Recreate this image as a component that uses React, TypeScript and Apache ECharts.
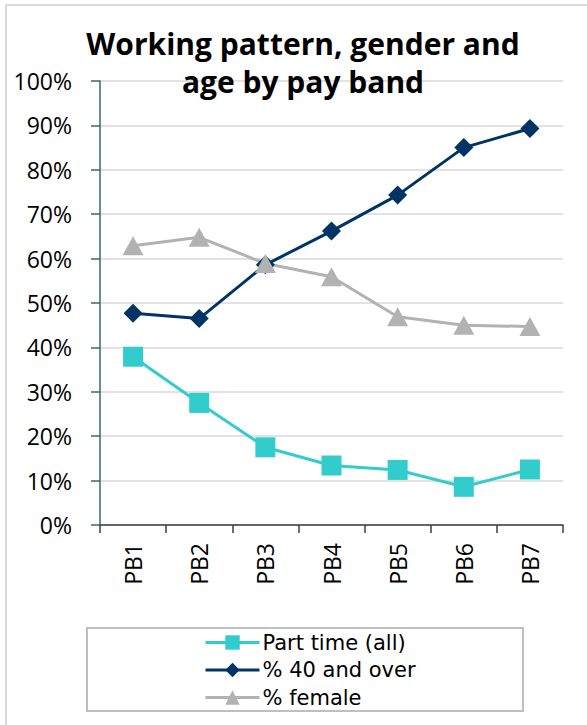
import React, { useEffect, useRef } from "react";
import * as echarts from "echarts";

const categories = ["PB1", "PB2", "PB3", "PB4", "PB5", "PB6", "PB7"];
const partTime = [0.379, 0.275, 0.175, 0.134, 0.124, 0.086, 0.125];
const over40 = [0.477, 0.465, 0.586, 0.662, 0.743, 0.85, 0.893];
const female = [0.629, 0.648, 0.589, 0.559, 0.469, 0.45, 0.447];
const seriesNames = ["Part time (all)", "% 40 and over", "% female"];
const titleText = "Working pattern, gender and\nage by pay band";

const FONT = "'Open Sans', 'Liberation Sans', sans-serif";
const LEGEND_FONT = "'DejaVu Sans', 'Liberation Sans', sans-serif";

export default function App() {
  const ref = useRef<HTMLDivElement>(null);
  useEffect(() => {
    if (!ref.current) return;
    const chart = echarts.init(ref.current, null, { renderer: "svg" });
    chart.setOption({
      animation: false,
      backgroundColor: "#ffffff",
      title: {
        text: titleText,
        left: 298,
        top: 19,
        textAlign: "center",
        textStyle: {
          fontFamily: FONT,
          fontWeight: "bold",
          fontSize: 30,
          lineHeight: 38,
          color: "#000000",
        },
      },
      graphic: [
        {
          type: "rect",
          shape: { x: 6, y: 5, width: 700, height: 800 },
          style: { fill: "none", stroke: "#d0d0d0", lineWidth: 1.5 },
          z: -10,
        },
        {
          type: "rect",
          shape: { x: 87, y: 628, width: 436, height: 83 },
          style: { fill: "none", stroke: "#bfbfbf", lineWidth: 2 },
          z: -5,
        },
      ],
      legend: {
        orient: "vertical",
        left: 204,
        top: 631,
        itemWidth: 54,
        itemHeight: 18,
        itemGap: 4.5,
        padding: 0,
        lineStyle: { width: 3 },
        textStyle: {
          fontFamily: LEGEND_FONT,
          fontSize: 21,
          lineHeight: 23,
          color: "#000000",
          padding: [0, 0, 0, -2],
        },
        data: seriesNames,
      },
      grid: { left: 100, right: 24, top: 81, bottom: 200, containLabel: false },
      xAxis: {
        type: "category",
        data: categories,
        boundaryGap: true,
        axisLine: { show: true, lineStyle: { color: "#3c3c3c", width: 1.5 } },
        axisTick: { show: true, length: 8, alignWithLabel: false, lineStyle: { color: "#3c3c3c", width: 1.5 } },
        axisLabel: {
          rotate: 90,
          margin: 18,
          fontFamily: FONT,
          fontSize: 23,
          color: "#000000",
        },
      },
      yAxis: {
        type: "value",
        min: 0,
        max: 1,
        interval: 0.1,
        axisLine: { show: true, lineStyle: { color: "#336b62", width: 1.5 } },
        axisTick: { show: true, length: 9, lineStyle: { color: "#336b62", width: 1.5 } },
        splitLine: { show: true, lineStyle: { color: "#d9d9d9", width: 1.5 } },
        axisLabel: {
          margin: 28,
          fontFamily: FONT,
          fontSize: 23,
          color: "#000000",
          formatter: (v: number) => Math.round(v * 100) + "%",
        },
      },
      series: [
        {
          name: seriesNames[0],
          type: "line",
          data: partTime,
          symbol: "rect",
          symbolSize: 20,
          lineStyle: { color: "#33CCCC", width: 3 },
          itemStyle: { color: "#33CCCC" },
        },
        {
          name: seriesNames[1],
          type: "line",
          data: over40,
          symbol: "diamond",
          symbolSize: 19,
          lineStyle: { color: "#003366", width: 3 },
          itemStyle: { color: "#003366" },
        },
        {
          name: seriesNames[2],
          type: "line",
          data: female,
          symbol: "triangle",
          symbolSize: [21, 19],
          lineStyle: { color: "#B2B2B2", width: 3 },
          itemStyle: { color: "#B2B2B2" },
        },
      ],
    });
    return () => chart.dispose();
  }, []);
  return (
    <div
      ref={ref}
      style={{ position: "absolute", left: 0, top: 0, width: 587, height: 725 }}
    />
  );
}
